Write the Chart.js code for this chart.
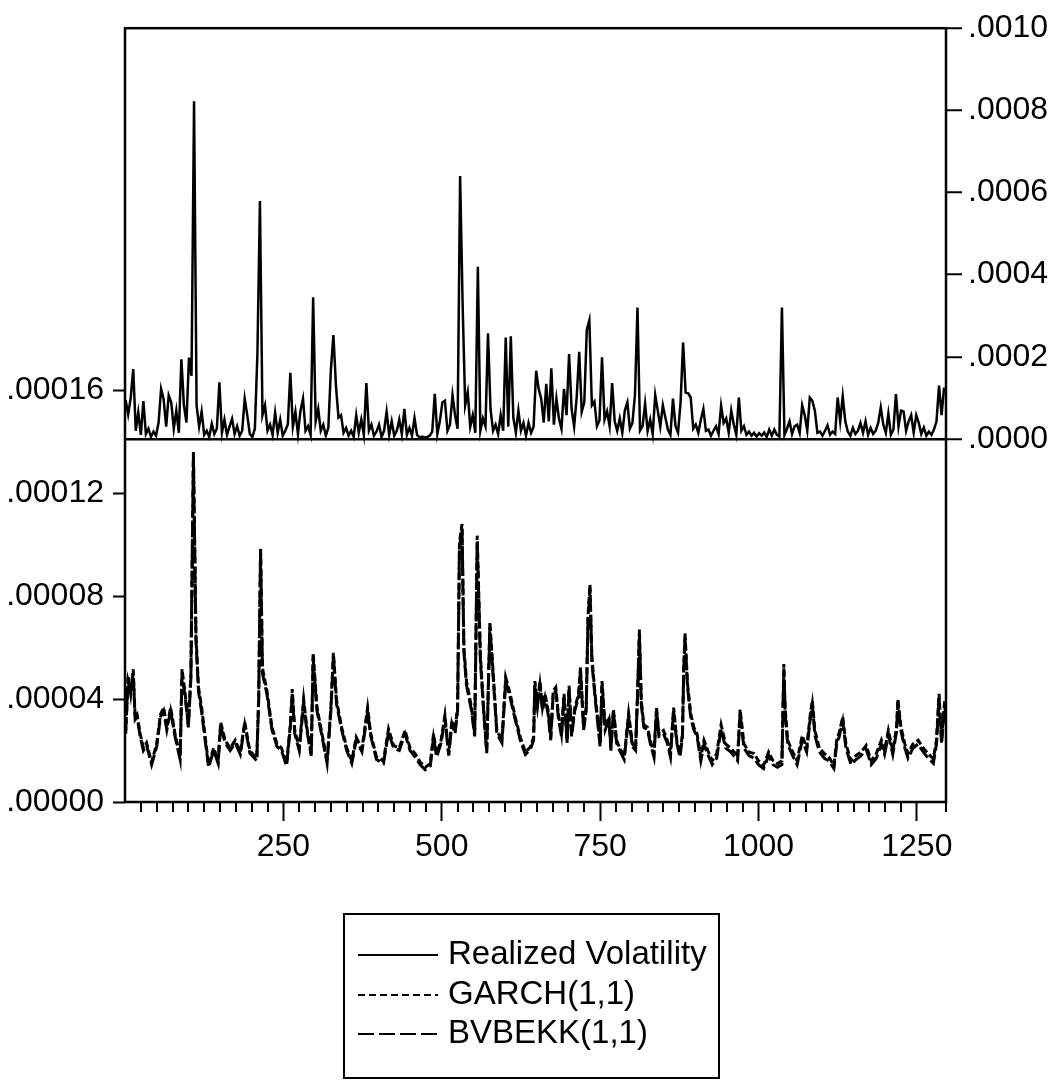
<!DOCTYPE html>
<html>
<head>
<meta charset="utf-8">
<script src="https://cdn.jsdelivr.net/npm/chart.js@4.4.1/dist/chart.umd.min.js"></script>
<style>
  body { margin: 0; background: #fff; }
  #wrap { position: relative; width: 1052px; height: 1082px; }
  #legend {
    position: absolute; left: 343px; top: 913px; width: 373px; height: 162px;
    border: 2px solid #000; font-family: "Liberation Sans", Arial, sans-serif; font-size: 33px; color: #000;
  }
  #legend .row { position: absolute; left: 13px; height: 40px; line-height: 40px; white-space: nowrap; }
  #legend svg { vertical-align: middle; margin-right: 10px; }
</style>
</head>
<body>
<div id="wrap">
  <canvas id="volChart" width="1052" height="1082"></canvas>
  <div id="legend">
    <div class="row" style="top:18px"><svg width="80" height="6"><line x1="0" y1="3" x2="80" y2="3" stroke="#000" stroke-width="2"/></svg><span>Realized Volatility</span></div>
    <div class="row" style="top:58px"><svg width="80" height="6"><line x1="0" y1="3" x2="80" y2="3" stroke="#000" stroke-width="2" stroke-dasharray="7 4"/></svg><span>GARCH(1,1)</span></div>
    <div class="row" style="top:97px"><svg width="80" height="6"><line x1="0" y1="3" x2="80" y2="3" stroke="#000" stroke-width="2" stroke-dasharray="16 5"/></svg><span>BVBEKK(1,1)</span></div>
  </div>
</div>
<script>
// valores em unidades de 1e-6
const UNIT = 1e-6;

// Realized volatility, uma observação a cada 4 (obs 1, 5, 9, ...)
const realizedVol = [
  95, 60, 100, 170, 20, 65, 10, 92, 12, 25, 5, 18, 8, 40, 122, 97, 30, 106, 89, 25, 69, 15, 194, 82, 40,
  198, 154, 822, 82, 30, 67, 10, 20, 5, 37, 12, 25, 138, 15, 47, 10, 30, 49, 12, 31, 8, 20, 98, 58, 12,
  5, 25, 207, 579, 58, 82, 20, 35, 10, 64, 15, 47, 8, 20, 35, 161, 30, 66, 12, 69, 98, 20, 31, 10, 345,
  43, 73, 20, 35, 8, 27, 169, 253, 130, 52, 58, 15, 27, 8, 20, 5, 58, 15, 47, 10, 136, 20, 35, 8, 18,
  35, 5, 20, 66, 10, 43, 8, 20, 47, 12, 73, 10, 27, 8, 51, 10, 4, 6, 3, 5, 8, 18, 110, 12, 43,
  89, 93, 20, 35, 107, 58, 25, 640, 325, 82, 114, 30, 58, 15, 419, 20, 50, 31, 257, 73, 20, 35, 12, 58, 20,
  247, 30, 250, 52, 15, 69, 20, 39, 8, 39, 15, 30, 166, 122, 98, 40, 134, 43, 172, 35, 98, 50, 25, 122, 58,
  207, 73, 30, 101, 212, 66, 89, 266, 289, 82, 91, 31, 45, 199, 47, 67, 31, 136, 43, 20, 50, 15, 69, 89, 25,
  39, 107, 320, 20, 31, 86, 20, 47, 12, 107, 69, 30, 82, 52, 23, 10, 98, 31, 15, 89, 235, 113, 111, 101, 25,
  35, 15, 47, 73, 20, 23, 8, 20, 31, 12, 81, 39, 50, 15, 69, 35, 10, 101, 20, 31, 10, 18, 8, 15, 6,
  14, 8, 16, 5, 23, 8, 23, 10, 6, 320, 10, 25, 43, 12, 31, 35, 15, 82, 58, 20, 101, 93, 69, 15, 18,
  8, 20, 33, 10, 18, 12, 101, 43, 104, 43, 18, 8, 27, 12, 20, 39, 15, 43, 10, 27, 12, 20, 39, 77, 35,
  15, 62, 10, 23, 109, 30, 69, 67, 20, 43, 58, 15, 58, 39, 12, 28, 8, 18, 10, 23, 43, 130, 58, 125
];

// observações do painel inferior
const modelObs = [
  1, 5, 9, 13, 16, 19, 24, 29, 34, 42,
  50, 56, 61, 66, 72, 79, 87, 90, 95, 100,
  104, 108, 112, 116, 121, 126, 132, 140, 147, 151,
  158, 166, 174, 182, 189, 197, 208, 211, 214, 217,
  224, 232, 240, 247, 255, 261, 264, 268, 275, 282,
  287, 294, 297, 303, 311, 319, 325, 329, 334, 342,
  350, 358, 365, 374, 383, 388, 397, 408, 416, 424,
  433, 442, 450, 458, 466, 474, 482, 487, 492, 499,
  505, 511, 516, 521, 525, 528, 532, 535, 539, 547,
  552, 556, 561, 566, 571, 576, 582, 587, 595, 601,
  608, 616, 624, 632, 640, 645, 647, 651, 655, 659,
  663, 668, 672, 676, 680, 684, 689, 693, 698, 701,
  705, 710, 716, 719, 724, 728, 731, 734, 737, 742,
  748, 750, 753, 758, 764, 767, 771, 776, 781, 788,
  795, 801, 806, 809, 812, 815, 819, 825, 829, 835,
  839, 843, 850, 856, 861, 866, 871, 876, 880, 882,
  884, 888, 893, 898, 903, 909, 914, 920, 927, 934,
  941, 948, 956, 964, 967, 971, 977, 985, 993, 1000,
  1008, 1016, 1023, 1030, 1037, 1040, 1042, 1046, 1053, 1061,
  1069, 1076, 1082, 1085, 1089, 1096, 1104, 1111, 1119, 1124,
  1127, 1133, 1138, 1146, 1154, 1162, 1170, 1178, 1186, 1194,
  1199, 1205, 1212, 1218, 1220, 1225, 1231, 1236, 1244, 1252,
  1260, 1268, 1276, 1281, 1285, 1289, 1294, 1296
];

const garch = [
  26.5, 49, 42, 51.6, 33, 34, 26.5, 21, 23, 15.5,
  22.6, 34, 36.7, 29, 36.7, 26.5, 17.5, 51.6, 42, 30,
  49.7, 136, 65, 44.6, 36.7, 26.5, 14.3, 21, 16, 31,
  24, 21, 24, 19.4, 31, 20, 17, 40.7, 98.7, 52,
  43.3, 29, 22.6, 21, 14.9, 30, 43.9, 27.8, 21, 40,
  29, 18.8, 58, 36.7, 26.5, 16, 36.7, 58, 39.4, 29,
  21, 16, 25.2, 20.6, 36.7, 26.5, 17.5, 16, 28.4, 21.9,
  21, 27.8, 21, 18.8, 15.5, 13.5, 14.9, 26.5, 18.8, 24,
  33.7, 18.8, 31.7, 27.8, 36.7, 101, 108, 60, 47, 36.7,
  26.5, 103.5, 57, 36.7, 20, 70, 47, 27.8, 24, 48.4,
  42, 33, 25.2, 19.4, 21.4, 25.2, 47, 38, 47, 36.7,
  42, 35.4, 25.2, 43.3, 44.6, 34.4, 26.5, 42, 24, 45.2,
  26.5, 36.7, 42, 52.3, 29, 36.7, 72.9, 84.5, 56.2, 42,
  27.8, 22.6, 47, 29, 33, 21, 36, 24, 21, 17.5,
  34.4, 22.6, 21, 42, 67, 39.4, 30, 29, 24, 18.8,
  36.7, 26.5, 27.8, 24, 18.8, 36.7, 24, 18.8, 26.5, 52.3,
  65.7, 45.8, 34.4, 29, 26.5, 17.5, 24, 20, 16, 18.8,
  30, 22.6, 21, 18.8, 17.5, 36, 22.6, 19.4, 18.8, 16,
  14.2, 19.4, 16, 14.9, 16, 53.6, 36.7, 24, 20, 16,
  25.8, 21, 34.4, 39.4, 27.8, 21, 18.8, 17.5, 14.2, 25.2,
  26.5, 33, 22.6, 16, 18.1, 19.4, 22, 16, 18.8, 24,
  20, 27.8, 20, 29, 40, 29, 22.6, 18.8, 22.6, 24,
  21, 18.8, 16.8, 24, 42, 24, 39.4, 33
];

const bvbekk = [
  27, 47, 43, 50, 32, 33, 25.5, 20, 22, 14.5,
  21.5, 33, 35.5, 28, 35.5, 25.5, 16.5, 49, 41, 29,
  48, 134, 63, 43, 35, 25, 13.5, 20, 15, 29.5,
  23, 20, 23, 18.5, 30, 19, 16, 39, 97, 50,
  42, 28, 21.5, 20, 14, 29, 42, 26.5, 20, 38.5,
  28, 18, 56, 35.5, 25.5, 15, 35.5, 56.5, 38, 28,
  20, 15, 24, 19.5, 35, 25.5, 16.5, 15, 27, 21,
  20, 26.5, 20, 17.5, 14.5, 12.5, 14, 25, 17.5, 23,
  32.5, 18, 30.5, 26.5, 35.5, 99, 106, 58, 45.5, 35.5,
  25.5, 101, 55, 35.5, 19, 68, 45.5, 26.5, 23, 47,
  40.5, 32, 24, 18.5, 20.5, 24, 45.5, 37, 45.5, 35.5,
  40.5, 34, 24, 42, 43, 33, 25.5, 40.5, 23, 44,
  25.5, 35.5, 40.5, 51, 28, 35.5, 71, 83, 54.5, 40.5,
  26.5, 21.5, 45.5, 28, 32, 20, 35, 23, 20, 16.5,
  33, 21.5, 20, 40.5, 65, 38, 29, 28, 23, 17.5,
  35.5, 25.5, 26.5, 23, 17.5, 35.5, 23, 17.5, 25.5, 51,
  64, 44.5, 33, 28, 25.5, 16, 22.5, 18.5, 14.5, 17,
  28.5, 21, 19.5, 17, 16, 34.5, 21, 18, 17, 14.5,
  13, 18, 14.5, 13.5, 14.5, 52, 35, 22.5, 18.5, 14.5,
  24, 19.5, 33, 38, 26, 19.5, 17, 16, 13, 23.5,
  25, 31.5, 21, 14.5, 16.5, 18, 20.5, 14.5, 17, 22.5,
  18.5, 26, 18.5, 27.5, 38.5, 27.5, 21, 17, 21, 22.5,
  19.5, 17, 15, 22.5, 40.5, 22.5, 38, 31.5
];

// marcas dos eixos
const leftTicks = [0, 0.00004, 0.00008, 0.00012, 0.00016];
const rightTicks = [0, 0.0002, 0.0004, 0.0006, 0.0008, 0.0010];
const xLabelEvery = 250;

const FONT = { family: '"Liberation Sans", Arial, sans-serif', size: 32 };

const rvData = realizedVol.map((v, i) => ({ x: 1 + 4 * i, y: v * UNIT }));
const garchData = garch.map((v, i) => ({ x: modelObs[i], y: v * UNIT }));
const bekkData = bvbekk.map((v, i) => ({ x: modelObs[i], y: v * UNIT }));

// moldura e marcas menores do eixo x
const frame = {
    id: 'frame',
    afterDraw(chart) {
        const { ctx, chartArea: a, scales } = chart;
        ctx.save();
        ctx.strokeStyle = '#000';
        ctx.lineWidth = 2.5;
        ctx.strokeRect(a.left, a.top, a.right - a.left, a.bottom - a.top);
        ctx.lineWidth = 2;
        ctx.beginPath();
        scales.x.ticks.forEach(t => {
            if (t.value === 0 || t.value % xLabelEvery === 0) return;
            const px = Math.round(scales.x.getPixelForValue(t.value));
            ctx.moveTo(px, a.bottom);
            ctx.lineTo(px, a.bottom + 10);
        });
        ctx.stroke();
        ctx.restore();
    }
};

const volChart = new Chart(document.getElementById('volChart'), {
    type: 'line',
    data: {
        datasets: [{
            label: 'Realized Volatility',
            data: rvData,
            yAxisID: 'y1',
            borderColor: '#000',
            borderWidth: 2.5,
            pointRadius: 0,
            tension: 0
        }, {
            label: 'GARCH(1,1)',
            data: garchData,
            yAxisID: 'y',
            borderColor: '#000',
            borderWidth: 3,
            borderDash: [7, 3],
            pointRadius: 0,
            tension: 0
        }, {
            label: 'BVBEKK(1,1)',
            data: bekkData,
            yAxisID: 'y',
            borderColor: '#000',
            borderWidth: 3,
            borderDash: [13, 4],
            pointRadius: 0,
            tension: 0
        }]
    },
    options: {
        responsive: false,
        animation: false,
        layout: { padding: { top: 24, left: 0, right: 0, bottom: 0 } },
        plugins: { legend: { display: false }, tooltip: { enabled: false } },
        scales: {
            x: {
                type: 'linear',
                min: 0,
                max: 1296,
                afterFit: s => { s.height = 280; },
                border: { display: false },
                grid: {
                    drawOnChartArea: false,
                    tickLength: 19,
                    tickWidth: 2,
                    tickColor: c => (c.tick && c.tick.value > 0 && c.tick.value % xLabelEvery === 0) ? '#000' : 'rgba(0,0,0,0)'
                },
                ticks: {
                    stepSize: 25,
                    autoSkip: false,
                    maxRotation: 0,
                    minRotation: 0,
                    padding: 7,
                    color: '#000',
                    font: FONT,
                    callback: v => (v > 0 && v % xLabelEvery === 0) ? String(v) : ''
                }
            },
            y: {
                position: 'left',
                min: 0,
                max: 0.0003007,
                afterFit: s => { s.width = 125; },
                afterBuildTicks: s => { s.ticks = leftTicks.map(v => ({ value: v })); },
                border: { display: false },
                grid: { drawOnChartArea: false, tickLength: 12, tickWidth: 2, tickColor: '#000' },
                ticks: {
                    padding: 9,
                    color: '#000',
                    font: FONT,
                    callback: v => v.toFixed(5).replace(/^0/, '')
                }
            },
            y1: {
                position: 'right',
                min: -0.0008838,
                max: 0.001,
                afterFit: s => { s.width = 106; },
                afterBuildTicks: s => { s.ticks = rightTicks.map(v => ({ value: v })); },
                border: { display: false },
                grid: {
                    drawOnChartArea: true,
                    lineWidth: 2.5,
                    color: c => (c.tick && c.tick.value === 0) ? '#000' : 'rgba(0,0,0,0)',
                    tickLength: 16,
                    tickWidth: 2,
                    tickColor: '#000'
                },
                ticks: {
                    padding: 6,
                    color: '#000',
                    font: FONT,
                    callback: v => v.toFixed(4).replace(/^0/, '')
                }
            }
        }
    },
    plugins: [frame]
});
</script>
</body>
</html>
